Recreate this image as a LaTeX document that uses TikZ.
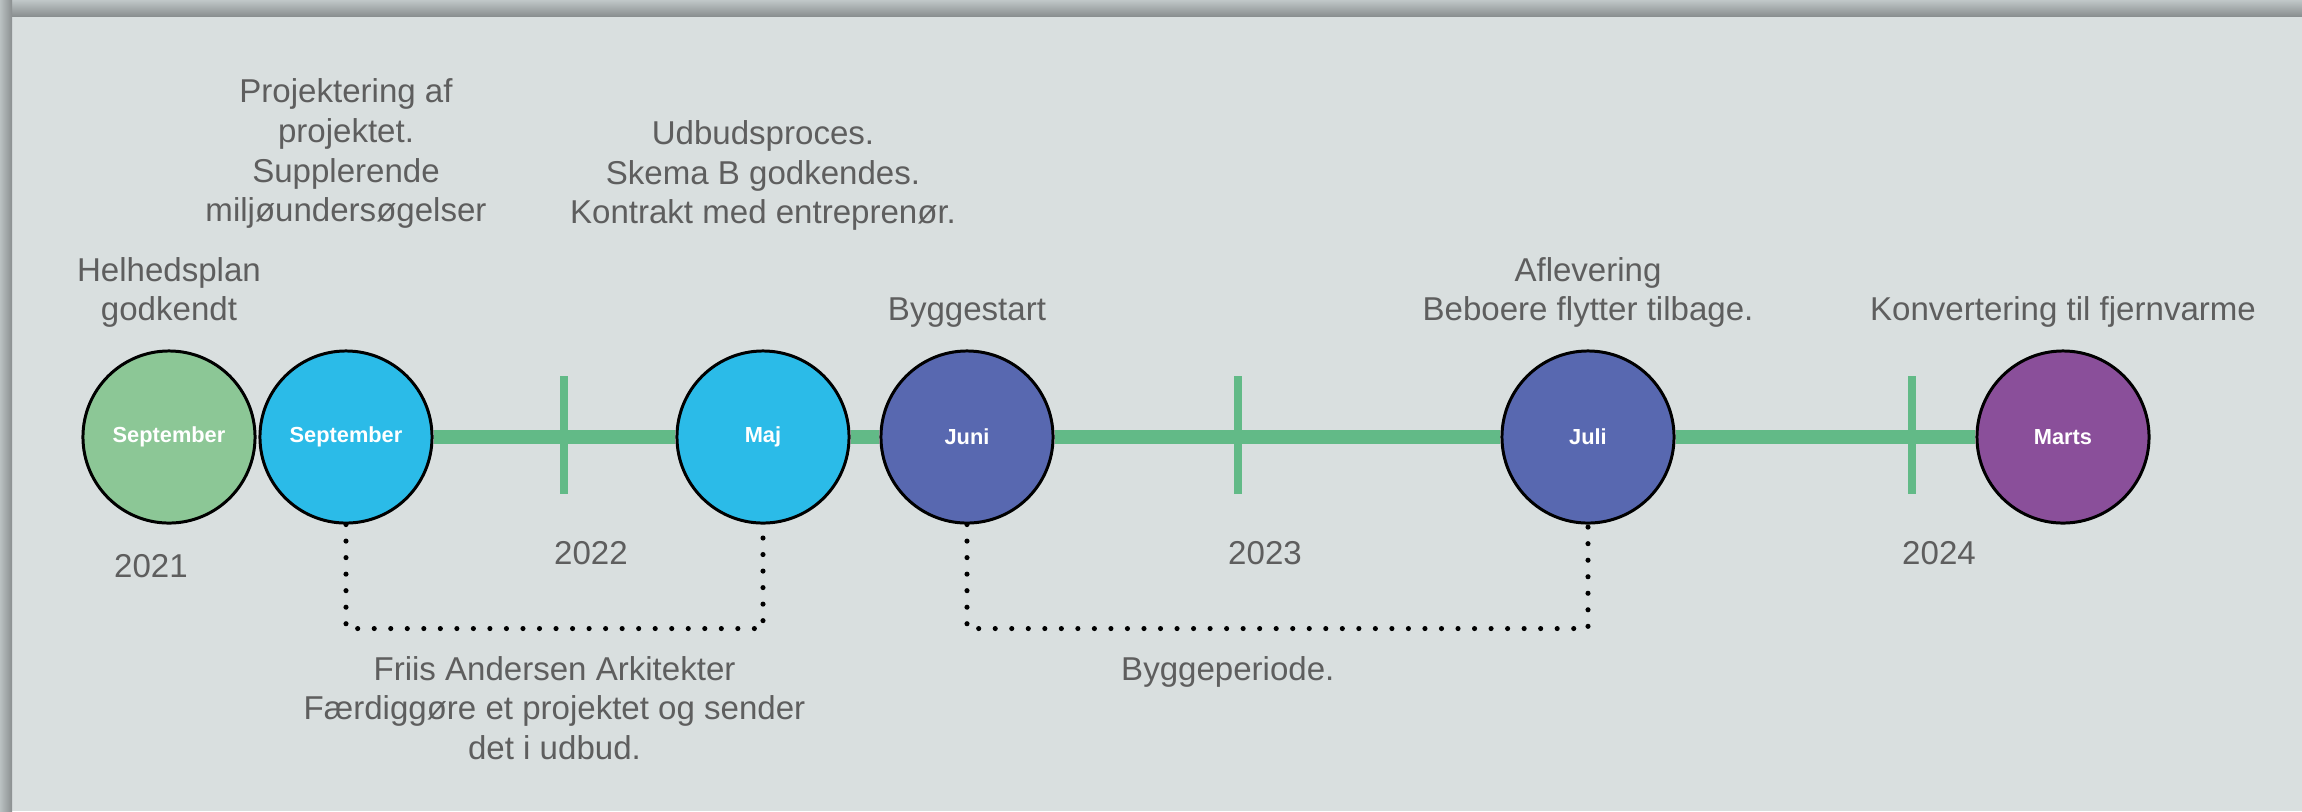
\documentclass[tikz,border=0pt]{standalone}
\usepackage{fontspec}
\setmainfont{Liberation Sans}
\usepackage{xcolor}
\usetikzlibrary{positioning,calc}

\definecolor{bgpanel}{HTML}{D9DFDF}
\definecolor{linegreen}{HTML}{62BA87}
\definecolor{circgreen}{HTML}{8CC796}
\definecolor{circblue}{HTML}{2BBBE8}
\definecolor{circindigo}{HTML}{5868B0}
\definecolor{circpurple}{HTML}{8A4F9A}
\definecolor{txtgray}{HTML}{5E5E5E}

\tikzset{
  milestone/.style={circle, draw=black, line width=0.85pt, minimum size=1.72cm, inner sep=0pt,
    text=white, font=\fontsize{6.2}{7}\selectfont\bfseries},
  note/.style={text=txtgray, font=\fontsize{9.4}{11.3}\selectfont, align=center, inner sep=0pt, text depth=2.5pt},
  yearlabel/.style={text=txtgray, font=\fontsize{9.4}{11.3}\selectfont, inner sep=0pt},
  timeline/.style={linegreen, line width=4.25pt},
  period/.style={black, line width=1.45pt, line cap=round, dash pattern=on 0pt off 4.7pt}
}

\begin{document}
\begin{tikzpicture}[x=0.01cm, y=-0.01cm]
        \fill[bgpanel] (0,0) rectangle (2302,811);
        \shade[top color={rgb,255:red,192;green,199;blue,200}, bottom color={rgb,255:red,138;green,143;blue,144}] (0,0) rectangle (2302,16);
        \shade[left color={rgb,255:red,186;green,193;blue,194}, right color={rgb,255:red,138;green,143;blue,144}] (0,0) rectangle (12,811);
        \useasboundingbox (0,0) rectangle (2302,811);

        \node[milestone, fill=circgreen] (helhed) at (169,437) {September};
        \node[milestone, fill=circblue] (projekt) at (346,437) {September};
        \node[milestone, fill=circblue] (udbud) at (763,437) {Maj};
        \node[milestone, fill=circindigo] (bygstart) at (967,437) {Juni};
        \node[milestone, fill=circindigo] (aflev) at (1588,437) {Juli};
        \node[milestone, fill=circpurple] (konv) at (2063,437) {Marts};

        \draw[timeline] (projekt) -- (udbud);
        \draw[timeline] (udbud) -- (bygstart);
        \draw[timeline] (bygstart) -- (aflev);
        \draw[timeline] (aflev) -- (konv);

        \foreach \tx/\yr in {564/2022, 1238/2023, 1912/2024} {
          \draw[linegreen, line width=2.4pt] (\tx,376) -- (\tx,494);
          \node[yearlabel, anchor=north] (y\yr) at (\tx+27,541) {\yr};
        }
        \node[yearlabel, anchor=north] (y2021) at (151,554) {2021};

        \node[note, above=0.19cm of helhed] (n1) {Helhedsplan\\godkendt};
        \node[note, above=1.18cm of projekt] (n2) {Projektering af\\projektet.\\Supplerende\\miljøundersøgelser};
        \node[note, above=1.16cm of udbud] (n3) {Udbudsproces.\\Skema B godkendes.\\Kontrakt med entreprenør.};
        \node[note, above=0.19cm of bygstart] (n4) {Byggestart};
        \node[note, above=0.19cm of aflev] (n5) {Aflevering\\Beboere flytter tilbage.};
        \node[note, above=0.19cm of konv] (n6) {Konvertering til fjernvarme};

        \draw[period] (projekt.south) -- ++(0,104) coordinate (p1) -| (udbud.south);
        \path (p1) -- (p1 -| udbud) node[note, midway, below=0.27cm] (friis) {Friis Andersen Arkitekter\\Færdiggøre et projektet og sender\\det i udbud.};

        \draw[period] (bygstart.south) -- ++(0,104) coordinate (p2) -| (aflev.south);
        \path (p2) -- (p2 -| aflev) node[note, pos=0.42, below=0.27cm] (byggeper) {Byggeperiode.};
      \end{tikzpicture}
\end{document}
